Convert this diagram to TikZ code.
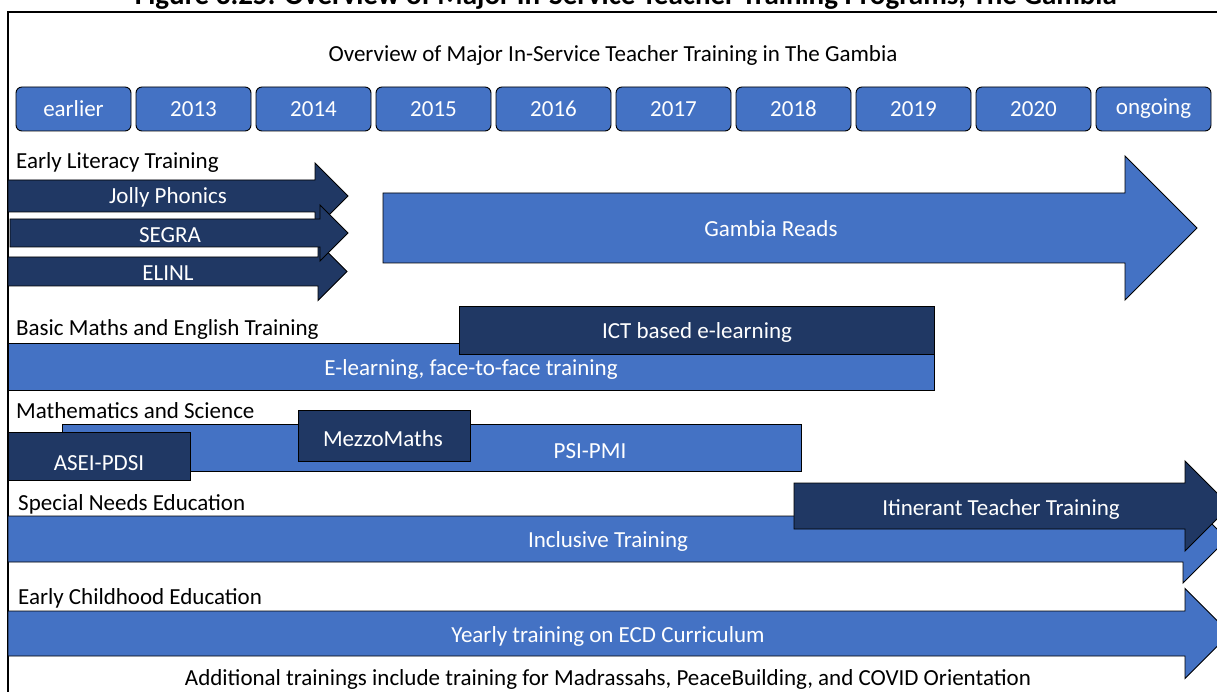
\documentclass[tikz,border=0pt]{standalone}
\usepackage{fontspec}
\setmainfont{Carlito}
\definecolor{officeblue}{RGB}{68,114,196}
\definecolor{navyblock}{RGB}{32,56,100}
\tikzset{
  yearbox/.style={
    draw=black,
    fill=officeblue,
    line width=0.9pt,
    rounded corners=6pt,
    minimum width=115pt,
    minimum height=44pt,
    text=white
  },
  lightbar/.style={
    draw=black,
    fill=officeblue,
    line width=0.9pt
  },
  darkbar/.style={
    draw=black,
    fill=navyblock,
    line width=0.9pt
  },
  plaintext/.style={inner sep=0pt,yshift=-2pt},
  bartext/.style={plaintext,text=white},
  rowlabel/.style={plaintext,anchor=west}
}
% block arrow: style, left x, head base x, shaft top y, shaft bottom y, head half height
\newcommand{\blockarrow}[6]{%
  \path[#1] (#2,#4) -- (#3,#4) -- (#3,{(#4+#5)/2-#6})
    -- ({#3+#6},{(#4+#5)/2}) -- (#3,{(#4+#5)/2+#6})
    -- (#3,#5) -- (#2,#5) -- cycle;
}

\begin{document}
\begin{tikzpicture}[x=1pt,y=-1pt,font=\fontsize{23}{27}\selectfont]

  \useasboundingbox (0,0) rectangle (1217,692);
  \clip (0,0) rectangle (1217,692);

  % Caption above the frame, cut by the top edge.
  \node[font=\bfseries\fontsize{29}{34}\selectfont,anchor=base,inner sep=0pt]
    (caption) at (626,5)
    {Figure 3.25: Overview of Major In-Service Teacher Training Programs, The Gambia};

  % Outer frame.
  \draw[black,line width=1.3pt] (8,12) rectangle (1250,720);

  \node[plaintext] (heading) at (613,53)
    {Overview of Major In-Service Teacher Training in The Gambia};

  % Time line of years.
  \foreach \yr [count=\i from 0] in {earlier,2013,2014,2015,2016,2017,2018,2019,2020,ongoing}
    \node[yearbox] (year\i) at ({73.5+120*\i},109) {\yr};

  % Early literacy.
  \node[rowlabel] (literacy) at (16,160) {Early Literacy Training};
  \blockarrow{darkbar}{8}{315}{180}{212}{33}
  \blockarrow{darkbar}{8}{318}{257}{286}{29}
  \blockarrow{darkbar}{10}{320}{219}{247}{28}
  \blockarrow{lightbar}{383}{1125}{193}{263}{72}
  \node[bartext] (jolly) at (168,195) {Jolly Phonics};
  \node[bartext] (segra) at (170,233) {SEGRA};
  \node[bartext] (elinl) at (168,271) {ELINL};
  \node[bartext] (reads) at (771,227) {Gambia Reads};

  % Basic maths and English.
  \node[rowlabel] (basics) at (16,327) {Basic Maths and English Training};
  \path[lightbar] (8,343) rectangle (934,390);
  \path[darkbar] (459,306) rectangle (934,354);
  \node[bartext] (ict) at (697,330) {ICT based e-learning};
  \node[bartext] (elearn) at (471,367) {E-learning, face-to-face training};

  % Mathematics and science.
  \node[rowlabel] (mathsci) at (16,409) {Mathematics and Science};
  \path[lightbar] (62,424) rectangle (801,471);
  \path[darkbar] (298,410) rectangle (470,461);
  \path[darkbar] (8,432) rectangle (190,480);
  \node[bartext] (psi) at (590,449) {PSI-PMI};
  \node[bartext] (mezzo) at (383,437) {MezzoMaths};
  \node[bartext] (asei) at (99,461) {ASEI-PDSI};

  % Special needs.
  \node[rowlabel] (special) at (18,502) {Special Needs Education};
  \blockarrow{lightbar}{8}{1183}{516}{562}{44}
  \blockarrow{darkbar}{794}{1185}{483}{529}{45}
  \node[bartext] (inclusive) at (608,539) {Inclusive Training};
  \node[bartext] (itinerant) at (1001,507) {Itinerant Teacher Training};

  % Early childhood.
  \node[rowlabel] (ecd) at (18,596) {Early Childhood Education};
  \blockarrow{lightbar}{8}{1185}{611}{656}{45}
  \node[bartext] (yearly) at (608,634) {Yearly training on ECD Curriculum};

  \node[inner sep=0pt] (extra) at (608,679)
    {Additional trainings include training for Madrassahs, PeaceBuilding, and COVID Orientation};

\end{tikzpicture}
\end{document}
